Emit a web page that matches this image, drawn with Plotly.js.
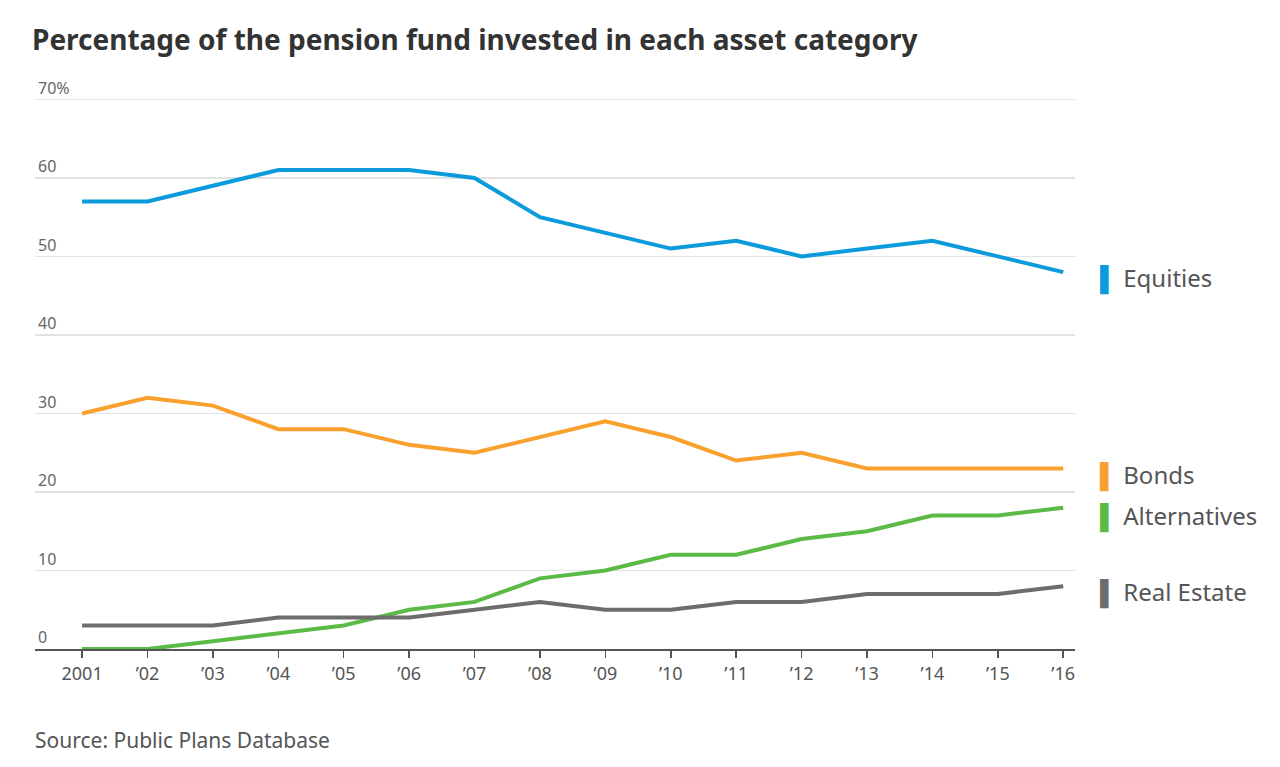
<!DOCTYPE html>
<html>
<head>
<meta charset="utf-8">
<script src="https://cdn.plot.ly/plotly-3.0.1.min.js"></script>
<style>
html,body{margin:0;padding:0;background:#fff;}
#chart{width:1280px;height:767px;}
</style>
</head>
<body>
<div id="chart"></div>
<script>
const years = [2001,2002,2003,2004,2005,2006,2007,2008,2009,2010,2011,2012,2013,2014,2015,2016];
const yearLabels = ["2001","’02","’03","’04","’05","’06","’07","’08","’09","’10","’11","’12","’13","’14","’15","’16"];
const equities = [57,57,59,61,61,61,60,55,53,51,52,50,51,52,50,48];
const bonds = [30,32,31,28,28,26,25,27,29,27,24,25,23,23,23,23];
const alternatives = [0,0,1,2,3,5,6,9,10,12,12,14,15,17,17,18];
const realEstate = [3,3,3,4,4,4,5,6,5,5,6,6,7,7,7,8];
const yTickVals = [0,10,20,30,40,50,60,70];
const yTickText = ["0","10","20","30","40","50","60","70%"];

const seriesNames = ["Equities","Bonds","Alternatives","Real Estate"];
const seriesData = [equities,bonds,alternatives,realEstate];
const colors = ["#0b9bdc","#f9a12e","#5cbb47","#6d6d6d"];
const labelY = [47.3,22.2,16.9,7.2];

const FONT = "Noto Sans, sans-serif";

const traces = seriesNames.map((n,i)=>({
  x: years, y: seriesData[i], name: n, type: "scatter", mode: "lines",
  line: {color: colors[i], width: 4}, hoverinfo: "x+y+name"
}));

const annotations = seriesNames.map((n,i)=>({
  xref: "paper", yref: "y", x: 1.022, y: labelY[i], xanchor: "left", yanchor: "middle",
  showarrow: false,
  text: '<span style="color:'+colors[i]+'">▌</span> ' + n,
  font: {family: FONT, size: 24, color: "#555"}
}));
annotations.push({
  xref: "paper", yref: "paper", x: -0.002, y: -0.157, xanchor: "left", yanchor: "middle",
  showarrow: false, text: "Source: Public Plans Database",
  font: {family: FONT, size: 21, color: "#555"}
});

const layout = {
  width: 1280, height: 767,
  margin: {l: 35, r: 205, t: 67.57, b: 118},
  paper_bgcolor: "#fff", plot_bgcolor: "#fff",
  showlegend: false,
  title: {text: "<b>Percentage of the pension fund invested in each asset category</b>",
          x: 0.025, xanchor: "left", y: 0.948, yanchor: "middle",
          font: {family: FONT, size: 28, color: "#333"}},
  xaxis: {range: [2000.28, 2016.18], tickvals: years, ticktext: yearLabels,
          showgrid: false, zeroline: false, showline: true, linecolor: "#555", linewidth: 2,
          ticks: "outside", ticklen: 7, tickwidth: 1.5, tickcolor: "#555",
          tickfont: {family: FONT, size: 18, color: "#555"}},
  yaxis: {range: [0, 74], tickvals: yTickVals, ticktext: yTickText,
          ticklabelposition: "inside top", showgrid: true, gridcolor: "#e2e2e2", gridwidth: 1.5,
          zeroline: false, showline: false, ticks: "",
          tickfont: {family: FONT, size: 16, color: "#666"}},
  annotations: annotations
};

Plotly.newPlot("chart", traces, layout, {displayModeBar: false, staticPlot: true});
</script>
</body>
</html>
